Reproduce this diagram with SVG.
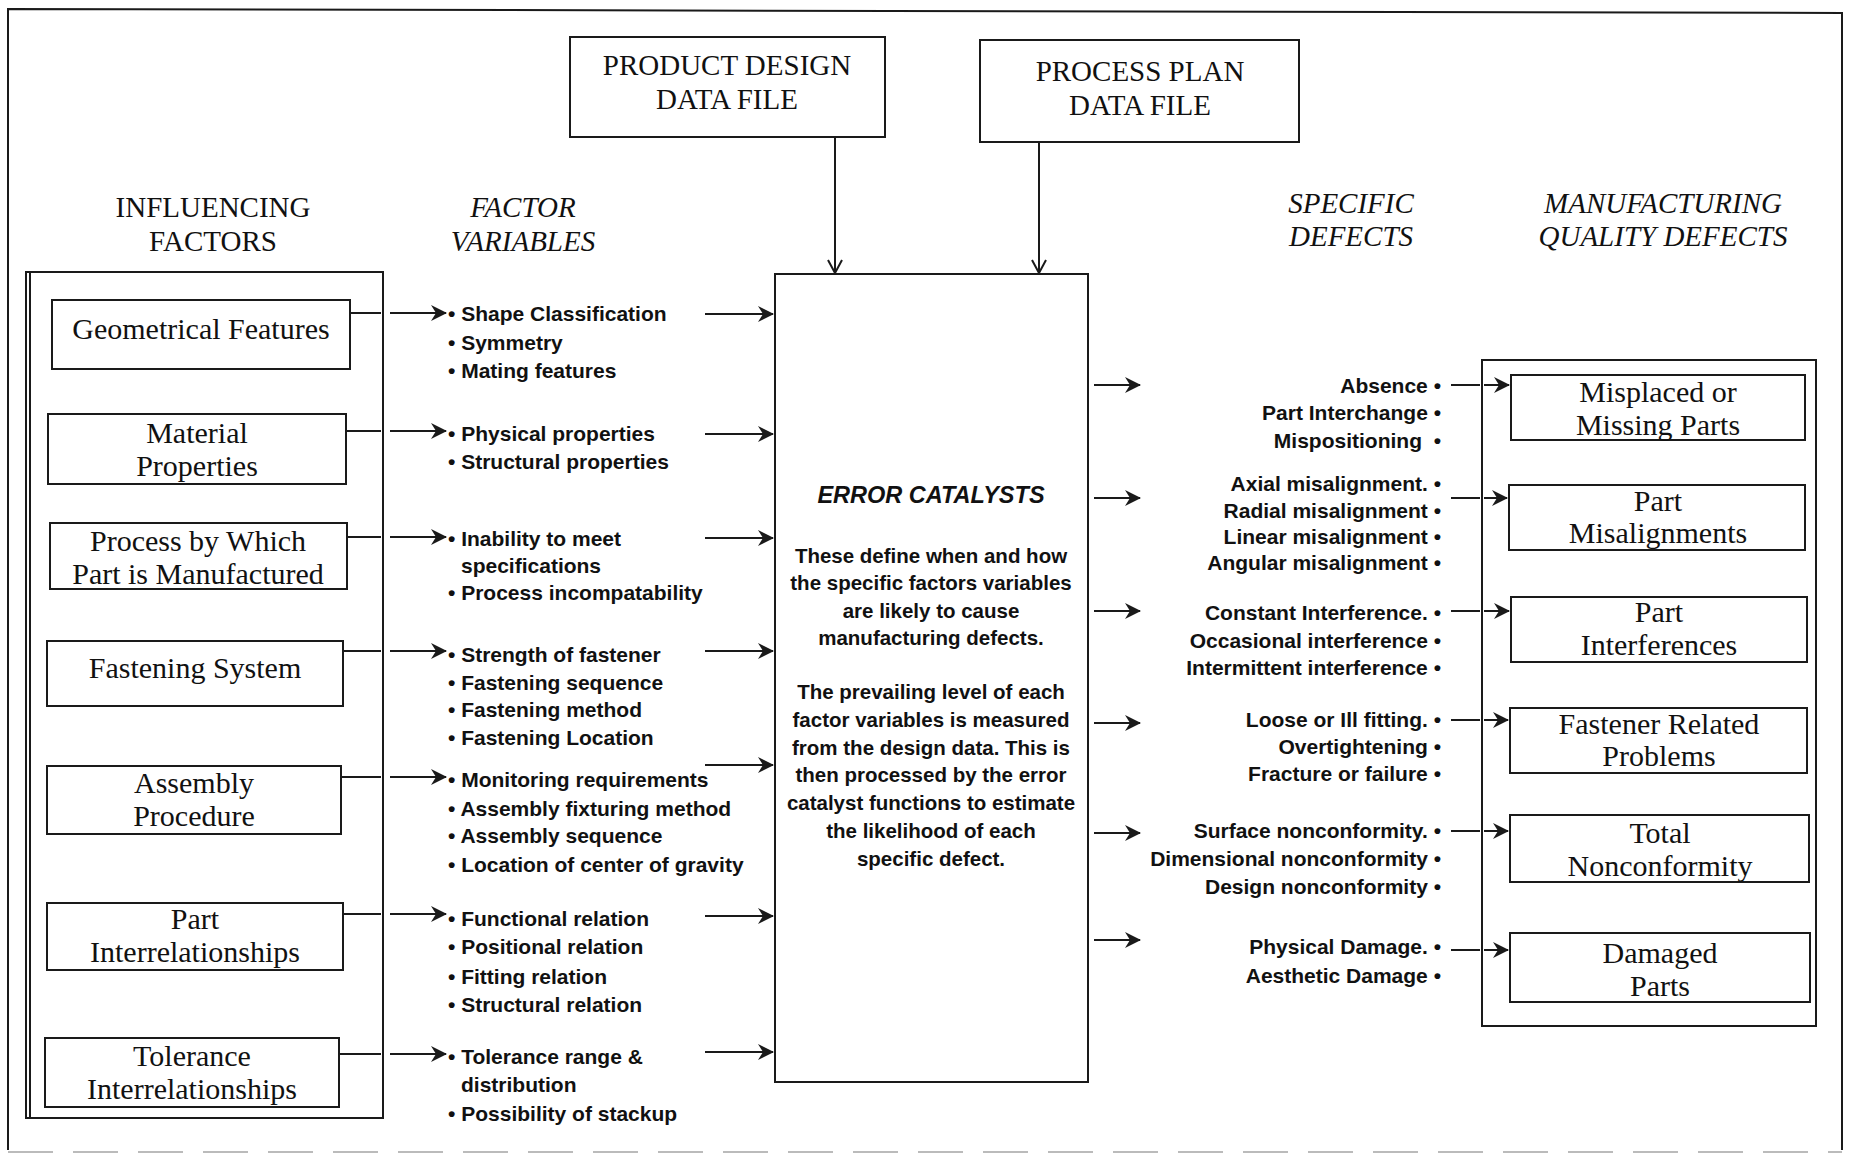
<svg xmlns="http://www.w3.org/2000/svg" width="1850" height="1157" viewBox="0 0 1850 1157">
<style>
.frame{fill:none;stroke:#1a1a1a;stroke-width:2}
.box{fill:none;stroke:#1a1a1a;stroke-width:2}
.conn{fill:none;stroke:#1a1a1a;stroke-width:2}
.serif{font-family:"Liberation Serif","Times New Roman",serif;font-size:30px;fill:#111;text-anchor:middle}
.hdr{font-family:"Liberation Serif","Times New Roman",serif;font-size:29px;fill:#111;text-anchor:middle;font-style:italic}
.hdrn{font-family:"Liberation Serif","Times New Roman",serif;font-size:29px;fill:#111;text-anchor:middle}
.var{font-family:"Liberation Sans",Arial,sans-serif;font-weight:bold;font-size:21px;fill:#111}
.def{font-family:"Liberation Sans",Arial,sans-serif;font-weight:bold;font-size:21px;fill:#111;text-anchor:end}
.cat{font-family:"Liberation Sans",Arial,sans-serif;font-weight:bold;font-size:20.5px;fill:#111;text-anchor:middle}
.catt{font-family:"Liberation Sans",Arial,sans-serif;font-style:italic;font-weight:bold;font-size:23.5px;fill:#111;text-anchor:middle}
</style>
<defs>
<marker id="ah" markerUnits="userSpaceOnUse" markerWidth="16" markerHeight="16" refX="15" refY="8" orient="auto">
<path d="M0,0 L16,8 L0,16 L5,8 z" fill="#1a1a1a"/>
</marker>
<marker id="av" markerUnits="userSpaceOnUse" markerWidth="16" markerHeight="16" refX="14" refY="8" orient="auto">
<path d="M1,1 L14,8 L1,15" fill="none" stroke="#1a1a1a" stroke-width="2"/>
</marker>
</defs>
<rect width="1850" height="1157" fill="#fff"/>

<g id="outer-frame">
<path class="frame" d="M8,1150 L8,9 L1842,13 L1842,1150" stroke-width="3"/>
<line x1="8" y1="1152" x2="1842" y2="1152" stroke="#bbb" stroke-width="2" stroke-dasharray="45 20"/>
</g>

<g id="headers">
<text class="hdrn" x="213" y="217">INFLUENCING</text>
<text class="hdrn" x="213" y="251">FACTORS</text>
<text class="hdr" x="523" y="217">FACTOR</text>
<text class="hdr" x="523" y="251">VARIABLES</text>
<text class="hdr" x="1351" y="213">SPECIFIC</text>
<text class="hdr" x="1351" y="246">DEFECTS</text>
<text class="hdr" x="1663" y="213">MANUFACTURING</text>
<text class="hdr" x="1663" y="246">QUALITY DEFECTS</text>
</g>

<g id="product-design">
<rect class="box" x="570" y="37" width="315" height="100"/>
<text class="hdrn" x="727" y="75">PRODUCT DESIGN</text>
<text class="hdrn" x="727" y="109">DATA FILE</text>
</g>
<g id="process-plan">
<rect class="box" x="980" y="40" width="319" height="102"/>
<text class="hdrn" x="1140" y="81">PROCESS PLAN</text>
<text class="hdrn" x="1140" y="115">DATA FILE</text>
</g>

<g id="influencing-factors">
<rect class="box" x="26" y="272" width="357" height="846"/>
<line x1="30" y1="272" x2="30" y2="1118" stroke="#1a1a1a" stroke-width="2"/>
</g>
<g id="geometrical-features">
<rect class="box" x="52" y="300" width="298" height="69"/>
<text class="serif" x="201" y="339">Geometrical Features</text>
</g>
<g id="material-properties">
<rect class="box" x="48" y="414" width="298" height="70"/>
<text class="serif" x="197" y="443">Material</text>
<text class="serif" x="197" y="476">Properties</text>
</g>
<g id="process-by-which">
<rect class="box" x="50" y="523" width="297" height="66"/>
<text class="serif" x="198" y="551">Process by Which</text>
<text class="serif" x="198" y="584">Part is Manufactured</text>
</g>
<g id="fastening-system">
<rect class="box" x="47" y="641" width="296" height="65"/>
<text class="serif" x="195" y="678">Fastening System</text>
</g>
<g id="assembly-procedure">
<rect class="box" x="47" y="766" width="294" height="68"/>
<text class="serif" x="194" y="793">Assembly</text>
<text class="serif" x="194" y="826">Procedure</text>
</g>
<g id="part-interrelationships">
<rect class="box" x="47" y="903" width="296" height="67"/>
<text class="serif" x="195" y="929">Part</text>
<text class="serif" x="195" y="962">Interrelationships</text>
</g>
<g id="tolerance-interrelationships">
<rect class="box" x="45" y="1038" width="294" height="69"/>
<text class="serif" x="192" y="1066">Tolerance</text>
<text class="serif" x="192" y="1099">Interrelationships</text>
</g>

<g id="factor-variables">
<text class="var" x="448" y="321">• Shape Classification</text>
<text class="var" x="448" y="350">• Symmetry</text>
<text class="var" x="448" y="378">• Mating features</text>
<text class="var" x="448" y="441">• Physical properties</text>
<text class="var" x="448" y="469">• Structural properties</text>
<text class="var" x="448" y="546">• Inability to meet</text>
<text class="var" x="461" y="573">specifications</text>
<text class="var" x="448" y="600">• Process incompatability</text>
<text class="var" x="448" y="662">• Strength of fastener</text>
<text class="var" x="448" y="690">• Fastening sequence</text>
<text class="var" x="448" y="717">• Fastening method</text>
<text class="var" x="448" y="745">• Fastening Location</text>
<text class="var" x="448" y="787">• Monitoring requirements</text>
<text class="var" x="448" y="816">• Assembly fixturing method</text>
<text class="var" x="448" y="843">• Assembly sequence</text>
<text class="var" x="448" y="872">• Location of center of gravity</text>
<text class="var" x="448" y="926">• Functional relation</text>
<text class="var" x="448" y="954">• Positional relation</text>
<text class="var" x="448" y="984">• Fitting relation</text>
<text class="var" x="448" y="1012">• Structural relation</text>
<text class="var" x="448" y="1064">• Tolerance range &amp;</text>
<text class="var" x="461" y="1092">distribution</text>
<text class="var" x="448" y="1121">• Possibility of stackup</text>
</g>

<g id="error-catalysts">
<rect class="box" x="775" y="274" width="313" height="808"/>
<text class="catt" x="931" y="503">ERROR CATALYSTS</text>
<text class="cat" x="931" y="563">These define when and how</text>
<text class="cat" x="931" y="590">the specific factors variables</text>
<text class="cat" x="931" y="618">are likely to cause</text>
<text class="cat" x="931" y="645">manufacturing defects.</text>
<text class="cat" x="931" y="699">The prevailing level of each</text>
<text class="cat" x="931" y="727">factor variables is measured</text>
<text class="cat" x="931" y="755">from the design data. This is</text>
<text class="cat" x="931" y="782">then processed by the error</text>
<text class="cat" x="931" y="810">catalyst functions to estimate</text>
<text class="cat" x="931" y="838">the likelihood of each</text>
<text class="cat" x="931" y="866">specific defect.</text>
</g>

<g id="specific-defects">
<text class="def" x="1441" y="393">Absence •</text>
<text class="def" x="1441" y="420">Part Interchange •</text>
<text class="def" x="1441" y="448">Mispositioning&#160;&#160;•</text>
<text class="def" x="1441" y="491">Axial misalignment. •</text>
<text class="def" x="1441" y="518">Radial misalignment •</text>
<text class="def" x="1441" y="544">Linear misalignment •</text>
<text class="def" x="1441" y="570">Angular misalignment •</text>
<text class="def" x="1441" y="620">Constant Interference. •</text>
<text class="def" x="1441" y="648">Occasional interference •</text>
<text class="def" x="1441" y="675">Intermittent interference •</text>
<text class="def" x="1441" y="727">Loose or Ill fitting. •</text>
<text class="def" x="1441" y="754">Overtightening •</text>
<text class="def" x="1441" y="781">Fracture or failure •</text>
<text class="def" x="1441" y="838">Surface nonconformity. •</text>
<text class="def" x="1441" y="866">Dimensional nonconformity •</text>
<text class="def" x="1441" y="894">Design nonconformity •</text>
<text class="def" x="1441" y="954">Physical Damage. •</text>
<text class="def" x="1441" y="983">Aesthetic Damage •</text>
</g>

<g id="manufacturing-quality-defects">
<rect class="box" x="1482" y="360" width="334" height="666"/>
</g>
<g id="misplaced-missing">
<rect class="box" x="1511" y="375" width="294" height="65"/>
<text class="serif" x="1658" y="402">Misplaced or</text>
<text class="serif" x="1658" y="435">Missing Parts</text>
</g>
<g id="part-misalignments">
<rect class="box" x="1509" y="485" width="296" height="65"/>
<text class="serif" x="1658" y="511">Part</text>
<text class="serif" x="1658" y="543">Misalignments</text>
</g>
<g id="part-interferences">
<rect class="box" x="1511" y="597" width="296" height="65"/>
<text class="serif" x="1659" y="622">Part</text>
<text class="serif" x="1659" y="655">Interferences</text>
</g>
<g id="fastener-related">
<rect class="box" x="1510" y="708" width="297" height="65"/>
<text class="serif" x="1659" y="734">Fastener Related</text>
<text class="serif" x="1659" y="766">Problems</text>
</g>
<g id="total-nonconformity">
<rect class="box" x="1510" y="815" width="299" height="67"/>
<text class="serif" x="1660" y="843">Total</text>
<text class="serif" x="1660" y="876">Nonconformity</text>
</g>
<g id="damaged-parts">
<rect class="box" x="1510" y="933" width="300" height="69"/>
<text class="serif" x="1660" y="963">Damaged</text>
<text class="serif" x="1660" y="996">Parts</text>
</g>

<g id="connectors">
<line class="conn" x1="835" y1="137" x2="835" y2="273" marker-end="url(#av)"/>
<line class="conn" x1="1039" y1="142" x2="1039" y2="273" marker-end="url(#av)"/>

<path class="conn" d="M351,313 H381 M390,313 H446" marker-end="url(#ah)"/>
<path class="conn" d="M347,431 H381 M390,431 H446" marker-end="url(#ah)"/>
<path class="conn" d="M348,537 H381 M390,537 H446" marker-end="url(#ah)"/>
<path class="conn" d="M344,651 H381 M390,651 H446" marker-end="url(#ah)"/>
<path class="conn" d="M342,777 H381 M390,777 H446" marker-end="url(#ah)"/>
<path class="conn" d="M344,914 H381 M390,914 H446" marker-end="url(#ah)"/>
<path class="conn" d="M340,1054 H381 M390,1054 H446" marker-end="url(#ah)"/>

<line class="conn" x1="705" y1="314" x2="773" y2="314" marker-end="url(#ah)"/>
<line class="conn" x1="705" y1="434" x2="773" y2="434" marker-end="url(#ah)"/>
<line class="conn" x1="705" y1="538" x2="773" y2="538" marker-end="url(#ah)"/>
<line class="conn" x1="705" y1="651" x2="773" y2="651" marker-end="url(#ah)"/>
<line class="conn" x1="705" y1="765" x2="773" y2="765" marker-end="url(#ah)"/>
<line class="conn" x1="705" y1="916" x2="773" y2="916" marker-end="url(#ah)"/>
<line class="conn" x1="705" y1="1052" x2="773" y2="1052" marker-end="url(#ah)"/>

<line class="conn" x1="1094" y1="385" x2="1140" y2="385" marker-end="url(#ah)"/>
<line class="conn" x1="1094" y1="498" x2="1140" y2="498" marker-end="url(#ah)"/>
<line class="conn" x1="1094" y1="611" x2="1140" y2="611" marker-end="url(#ah)"/>
<line class="conn" x1="1094" y1="723" x2="1140" y2="723" marker-end="url(#ah)"/>
<line class="conn" x1="1094" y1="833" x2="1140" y2="833" marker-end="url(#ah)"/>
<line class="conn" x1="1094" y1="940" x2="1140" y2="940" marker-end="url(#ah)"/>

<path class="conn" d="M1451,385 H1480 M1484,385 H1509" marker-end="url(#ah)"/>
<path class="conn" d="M1451,498 H1480 M1484,498 H1507" marker-end="url(#ah)"/>
<path class="conn" d="M1451,611 H1480 M1484,611 H1509" marker-end="url(#ah)"/>
<path class="conn" d="M1451,720 H1480 M1484,720 H1508" marker-end="url(#ah)"/>
<path class="conn" d="M1451,831 H1480 M1484,831 H1508" marker-end="url(#ah)"/>
<path class="conn" d="M1451,950 H1480 M1484,950 H1508" marker-end="url(#ah)"/>
</g>
</svg>
